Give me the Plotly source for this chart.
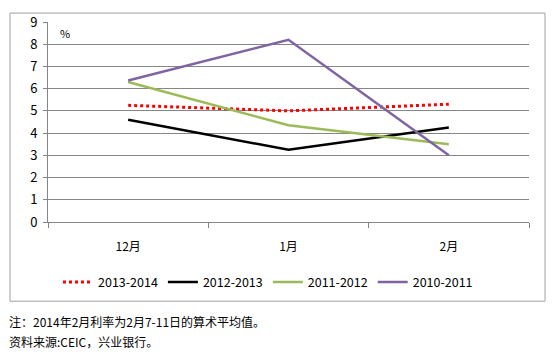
import plotly.graph_objects as go

categories = ["12月", "1月", "2月"]
s_2013_2014 = [5.25, 5.0, 5.3]
s_2012_2013 = [4.6, 3.25, 4.25]
s_2011_2012 = [6.3, 4.35, 3.5]
s_2010_2011 = [6.37, 8.2, 3.0]
y_ticks = list(range(0, 10))

fig = go.Figure()
fig.add_trace(go.Scatter(x=categories, y=s_2013_2014, name="2013-2014", mode="lines",
                         line=dict(color="#ff0000", width=3, dash="dot")))
fig.add_trace(go.Scatter(x=categories, y=s_2012_2013, name="2012-2013", mode="lines",
                         line=dict(color="#000000", width=2.5)))
fig.add_trace(go.Scatter(x=categories, y=s_2011_2012, name="2011-2012", mode="lines",
                         line=dict(color="#9bbb59", width=2.5)))
fig.add_trace(go.Scatter(x=categories, y=s_2010_2011, name="2010-2011", mode="lines",
                         line=dict(color="#8064a2", width=2.5)))

fig.update_layout(
    width=554, height=355,
    margin=dict(l=48, r=25, t=20, b=133),
    paper_bgcolor="white", plot_bgcolor="white",
    font=dict(family="Noto Sans CJK SC, Open Sans, sans-serif", size=12, color="#000"),
    showlegend=True,
    legend=dict(orientation="h", x=(268 - 48) / 481, xanchor="center", y=(222 - 283) / 202,
                yanchor="middle", font=dict(size=12.5), itemwidth=30, tracegroupgap=0),
    xaxis=dict(type="category", range=[-0.5, 2.5], showgrid=False,
               showline=True, linecolor="#868686", linewidth=1,
               ticks="outside", tickson="boundaries", ticklen=5, tickcolor="#868686",
               ticklabelstandoff=14, fixedrange=True),
    yaxis=dict(range=[0, 9], tickvals=y_ticks, showgrid=True, gridcolor="#868686", gridwidth=1,
               showline=True, linecolor="#868686", linewidth=1,
               ticks="outside", ticklen=4, tickcolor="#868686", ticklabelstandoff=3,
               zeroline=False, tickfont=dict(size=13), fixedrange=True),
    shapes=[dict(type="rect", xref="paper", yref="paper",
                 x0=(10 - 48) / 481, x1=(545 - 48) / 481,
                 y0=(222 - 302) / 202, y1=(222 - 11) / 202,
                 line=dict(color="#a0a0a0", width=1), fillcolor="rgba(0,0,0,0)", layer="below")],
    annotations=[
        dict(text="%", xref="paper", yref="paper", x=(58 - 48) / 481, y=(222 - 31) / 202,
             showarrow=False, xanchor="left", yanchor="middle", font=dict(size=11)),
        dict(text="注：2014年2月利率为2月7-11日的算术平均值。", xref="paper", yref="paper",
             x=(7 - 48) / 481, y=(222 - 322) / 202, showarrow=False,
             xanchor="left", yanchor="middle", font=dict(size=12)),
        dict(text="资料来源:CEIC，兴业银行。", xref="paper", yref="paper",
             x=(7 - 48) / 481, y=(222 - 343) / 202, showarrow=False,
             xanchor="left", yanchor="middle", font=dict(size=12)),
    ],
)

fig.write_html("out.html")
